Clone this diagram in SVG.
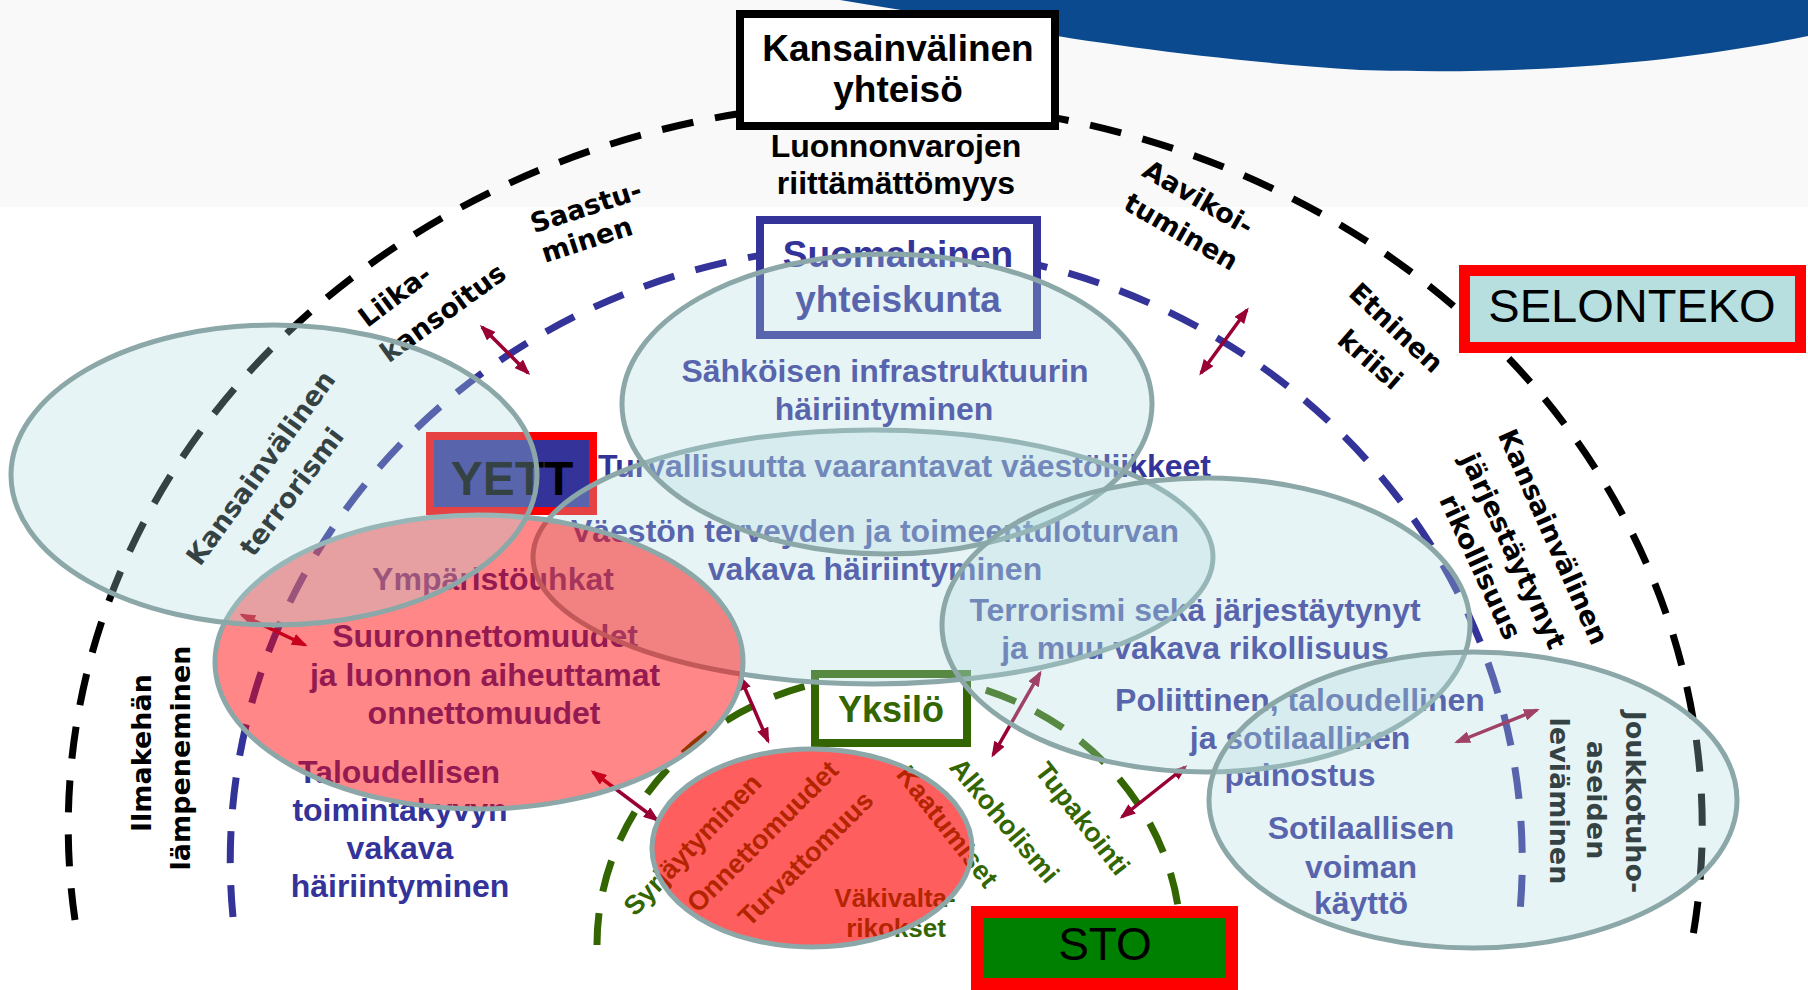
<svg xmlns="http://www.w3.org/2000/svg" width="1808" height="990" viewBox="0 0 1808 990">
<defs>
<marker id="ah" viewBox="0 0 16 12" refX="13" refY="6" markerWidth="16" markerHeight="12" markerUnits="userSpaceOnUse" orient="auto-start-reverse"><path d="M0,0 L16,6 L0,12 z" fill="#990033"/></marker>
</defs>
<style>
.t{font-family:"Liberation Sans",Arial,sans-serif;font-weight:bold;font-size:32px}
.h{font-size:37px}
.s27{font-size:27px}
.s26{font-size:26px}
.b{fill:#333399}
.g{fill:#336600}
.k{fill:#000}
.d{font-family:"DejaVu Sans",Verdana,sans-serif;font-weight:bold;font-size:27px;fill:#000}
.m{text-anchor:middle}
.arc{fill:none;stroke-width:7;stroke-dasharray:32 22}
.cy{fill:#b0dcdf;fill-opacity:0.3;stroke:#8ca7a8;stroke-width:5}
.rd{fill:#ff0000;stroke:#8ca7a8;stroke-width:5}
.ar{stroke:#990033;stroke-width:3.5;fill:none;marker-start:url(#ah);marker-end:url(#ah)}
.n{font-family:"Liberation Sans",Arial,sans-serif;fill:#000;text-anchor:middle}
</style>
<rect x="0" y="0" width="1808" height="990" fill="#ffffff"/>
<rect x="0" y="0" width="1808" height="207" fill="#f9f9f9"/>
<path d="M840,0 C980,22 1130,55 1360,70 C1560,76 1700,58 1808,36 L1808,0 Z" fill="#0b4a8e"/>

<g id="arcs">
<path class="arc" stroke="#000" d="M75,920 A817,725 0 1 1 1690,952"/>
<path class="arc" stroke="#333399" d="M233,917 A646,615 0 1 1 1519,922"/>
<path class="arc" stroke="#336600" d="M597,945 A292,270 0 1 1 1181,945"/>
</g>

<g id="node-suomalainen">
<rect x="760" y="220" width="277" height="115" fill="#fff" stroke="#333399" stroke-width="8"/>
<text class="t b m h" x="898" y="267">Suomalainen</text>
<text class="t b m h" x="898" y="312">yhteiskunta</text>
</g>
<g id="node-yett">
<rect x="430" y="436" width="163" height="75" fill="#333399" stroke="#ff0000" stroke-width="8"/>
<text class="t k m" x="512" y="495" style="font-size:48px">YETT</text>
</g>
<g id="node-yksilo">
<rect x="815" y="674" width="152" height="69" fill="#fff" stroke="#336600" stroke-width="8"/>
<text class="t g m" x="891" y="722" style="font-size:36px">Yksilö</text>
</g>

<g id="labels-black">
<text class="d m" transform="translate(586,207) rotate(-18)" y="9">Saastu-</text>
<text class="d m" transform="translate(587,240) rotate(-18)" y="9">minen</text>
<text class="d m" transform="translate(395,296) rotate(-37)" y="9">Liika-</text>
<text class="d m" transform="translate(443,313) rotate(-36)" y="9">kansoitus</text>
<text class="d m" transform="translate(1198,198) rotate(30)" y="9">Aavikoi-</text>
<text class="d m" transform="translate(1181,232) rotate(30)" y="9">tuminen</text>
<text class="d m" transform="translate(1396,328) rotate(43)" y="9">Etninen</text>
<text class="d m" transform="translate(1370,360) rotate(41)" y="9">kriisi</text>
<text class="d m" transform="translate(1553,537) rotate(66)" y="9">Kansainvälinen</text>
<text class="d m" transform="translate(1513,551) rotate(65)" y="9">järjestäytynyt</text>
<text class="d m" transform="translate(1480,567) rotate(65)" y="9">rikollisuus</text>
<text class="d m" transform="translate(142,753) rotate(-90)" y="9">Ilmakehän</text>
<text class="d m" transform="translate(181,758) rotate(-90)" y="9">lämpeneminen</text>
<text class="d m" transform="translate(261,468) rotate(-54)" y="9">Kansainvälinen</text>
<text class="d m" transform="translate(292,492) rotate(-53)" y="9">terrorismi</text>
<text class="d m" transform="translate(1635,802) rotate(90)" y="9">Joukkotuho-</text>
<text class="d m" transform="translate(1596,800) rotate(90)" y="9">aseiden</text>
<text class="d m" transform="translate(1559,801) rotate(90)" y="9">leviäminen</text>
<text class="t k m" x="896" y="157">Luonnonvarojen</text>
<text class="t k m" x="896" y="194">riittämättömyys</text>
</g>

<g id="labels-blue">
<text class="t b m" x="885" y="382">Sähköisen infrastruktuurin</text>
<text class="t b m" x="884" y="420">häiriintyminen</text>
<text class="t b" x="598" y="477">Turvallisuutta vaarantavat väestöliikkeet</text>
<text class="t b m" x="875" y="542">Väestön terveyden ja toimeentuloturvan</text>
<text class="t b m" x="875" y="580">vakava häiriintyminen</text>
<text class="t b m" x="1195" y="621">Terrorismi sekä järjestäytynyt</text>
<text class="t b m" x="1195" y="659">ja muu vakava rikollisuus</text>
<text class="t b m" x="1300" y="711">Poliittinen, taloudellinen</text>
<text class="t b m" x="1300" y="749">ja sotilaallinen</text>
<text class="t b m" x="1300" y="786">painostus</text>
<text class="t b m" x="1361" y="839">Sotilaallisen</text>
<text class="t b m" x="1361" y="878">voiman</text>
<text class="t b m" x="1361" y="914">käyttö</text>
<text class="t b m" x="493" y="590">Ympäristöuhkat</text>
<text class="t b m" x="485" y="647">Suuronnettomuudet</text>
<text class="t b m" x="485" y="686">ja luonnon aiheuttamat</text>
<text class="t b m" x="484" y="724">onnettomuudet</text>
<text class="t b m" x="399" y="783">Taloudellisen</text>
<text class="t b m" x="400" y="821">toimintakyvyn</text>
<text class="t b m" x="400" y="859">vakava</text>
<text class="t b m" x="400" y="897">häiriintyminen</text>
</g>

<g id="labels-green">
<text class="t g m s27" transform="translate(692,844) rotate(-46)" y="10">Syrjäytyminen</text>
<text class="t g m s27" transform="translate(762,836) rotate(-45)" y="10">Onnettomuudet</text>
<text class="t g m s27" transform="translate(805,858) rotate(-45)" y="10">Turvattomuus</text>
<text class="t g m s27" transform="translate(948,826) rotate(52)" y="10">Kaatumiset</text>
<text class="t g m s27" transform="translate(1005,820) rotate(50)" y="10">Alkoholismi</text>
<text class="t g m s27" transform="translate(1083,818) rotate(52)" y="10">Tupakointi</text>
<text class="t g m s26" x="895" y="907">Väkivalta-</text>
<text class="t g m s26" x="896" y="937">rikokset</text>
</g>

<g id="connectors">
<path class="ar" d="M482,327 L528,373"/>
<path class="ar" d="M1247,310 L1201,373"/>
<path class="ar" d="M242,615 L305,645"/>
<path class="ar" d="M593,772 L657,820"/>
<path class="ar" d="M740,677 L768,741"/>
<path class="ar" d="M1040,673 L993,755"/>
<path class="ar" d="M1185,767 L1122,817"/>
<path class="ar" d="M1537,710 L1457,742"/>
</g>

<g id="node-vaeston"><ellipse class="cy" cx="873" cy="557" rx="340" ry="127"/></g>
<g id="node-sahkoisen"><ellipse class="cy" cx="887" cy="404" rx="265" ry="150"/></g>
<g id="node-terrorismi"><ellipse class="cy" cx="1206" cy="625" rx="264" ry="147"/></g>
<g id="node-joukkotuho"><ellipse class="cy" cx="1473" cy="800" rx="264" ry="148"/></g>
<g id="node-ymparisto"><ellipse class="rd" fill-opacity="0.47" cx="479" cy="662" rx="264" ry="147"/></g>
<g id="node-syrjaytyminen"><ellipse class="rd" fill-opacity="0.63" cx="812" cy="848" rx="160" ry="99"/></g>
<g id="node-kv-terrorismi"><ellipse class="cy" cx="274" cy="475" rx="263" ry="150"/></g>

<g id="node-kansainvalinen">
<rect x="740" y="14" width="315" height="112" fill="#fff" stroke="#000" stroke-width="8"/>
<text class="t k m h" x="898" y="61">Kansainvälinen</text>
<text class="t k m h" x="898" y="102">yhteisö</text>
</g>
<g id="node-selonteko">
<rect x="1464.5" y="270.5" width="336" height="77" fill="#b7dfe0" stroke="#ff0000" stroke-width="11"/>
<text class="n" x="1632" y="322" style="font-size:47px">SELONTEKO</text>
</g>
<g id="node-sto">
<rect x="977" y="912" width="255" height="72" fill="#008000" stroke="#ff0000" stroke-width="12"/>
<text class="n" x="1105" y="960" style="font-size:46px">STO</text>
</g>
</svg>
